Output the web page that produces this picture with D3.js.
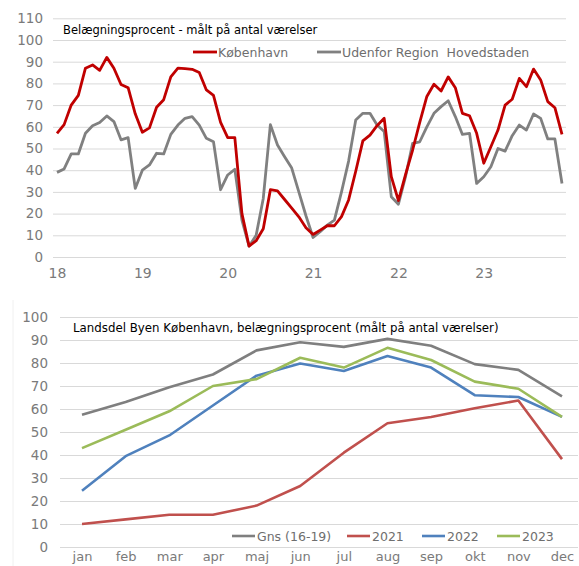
<!DOCTYPE html>
<html>
<head>
<meta charset="utf-8">
<script src="https://cdn.jsdelivr.net/npm/d3@7"></script>
<style>
  body { margin: 0; background: #fff; }
  svg text { font-family: "DejaVu Sans", sans-serif; }
  .tick line { stroke: #d9d9d9; stroke-width: 1; }
  .tick text { fill: #7a7a7a; font-size: 13px; }
</style>
</head>
<body>
<div class="chart"></div>
<script>
// top chart: monthly occupancy 2018-2023
var yearLabels = ["18", "19", "20", "21", "22", "23"];
var kbh = [
  57, 61, 70, 74.5, 87, 88.5, 86, 92, 87, 79.5, 78, 66,
  57.5, 59.5, 69, 72.5, 83, 87, 86.8, 86.5, 85, 77, 74.5, 62,
  55, 55, 20, 5, 7.5, 13, 31, 30.5, 26.5, 22.5, 18.5, 13.5,
  10.4, 12.4, 14.4, 14.4, 18.6, 26.3, 39.5, 53.5, 56.2, 60.5, 63.9, 37,
  26, 38, 49.3, 62, 74, 79.6, 76.5, 83, 78, 66.2, 65.1, 57,
  43.2, 50.8, 58.5, 70, 72.7, 82.3, 78.5, 86.6, 81.6, 71.6, 68.8, 56.5
];
var udenfor = [
  39, 40.6, 47.5, 47.5, 57, 60.5, 62, 65, 62.4, 54, 55, 31.6,
  40, 42.4, 47.8, 47.5, 56.5, 60.8, 63.9, 64.7, 60.8, 54.7, 53.1, 31,
  37.8, 40.4, 17, 5, 10, 27, 61, 51.6, 46.2, 41, 30, 19,
  9, 11.7, 14.7, 17, 30, 44.2, 63.1, 66.2, 66.2, 60.8, 57.8, 27.8,
  24.3, 37, 52.4, 53.1, 60, 66.2, 69.3, 72, 64.7, 56.5, 57, 33.9,
  37, 41.6, 50, 48.8, 55.9, 60.8, 58.5, 65.9, 63.9, 54.4, 54.4, 33.9
];
var topTicks = [0, 10, 20, 30, 40, 50, 60, 70, 80, 90, 100, 110];

// bottom chart: Landsdel Byen København by month
var months = ["jan", "feb", "mar", "apr", "maj", "jun", "jul", "aug", "sep", "okt", "nov", "dec"];
var gns = [57.5, 63, 69.5, 75, 85.5, 89, 87, 90.5, 87.5, 79.5, 77, 65.5];
var y2021 = [10, 12, 14, 14, 18, 26.5, 41, 53.8, 56.5, 60.3, 63.7, 38.2];
var y2022 = [24.5, 39.5, 48.5, 61.5, 74.5, 79.8, 76.5, 83, 78, 66, 65.2, 56.6];
var y2023 = [43, 51, 59, 70, 73, 82.3, 78, 86.6, 81.3, 71.9, 68.8, 56.6];
var bottomTicks = [0, 10, 20, 30, 40, 50, 60, 70, 80, 90, 100];

var svg = d3.select(".chart")
  .append("svg")
    .attr("width", 579)
    .attr("height", 566);

// ---------- top chart ----------
var xTop = d3.scaleLinear().domain([0, kbh.length - 1]).range([57, 562]);
var yTop = d3.scaleLinear().domain([0, 110]).range([257, 18.3]);

svg.append("g")
    .attr("transform", "translate(53,0)")
    .call(d3.axisLeft(yTop).tickValues(topTicks).tickSize(-513).tickPadding(10))
    .call(function (g) { g.select(".domain").remove(); })
    .selectAll("text").style("font-size", "13.5px");

svg.append("g")
    .attr("transform", "translate(0,257)")
    .call(d3.axisBottom(xTop)
      .tickValues(yearLabels.map(function (d, i) { return i * 12; }))
      .tickFormat(function (d) { return yearLabels[d / 12]; })
      .tickSize(0).tickPadding(11))
    .call(function (g) { g.select(".domain").remove(); })
    .selectAll("text").style("font-size", "14px");

var topLine = d3.line()
    .x(function (d, i) { return xTop(i); })
    .y(function (d) { return yTop(d); });

svg.append("path")
    .datum(udenfor)
    .attr("d", topLine)
    .attr("fill", "none")
    .attr("stroke", "#808080")
    .attr("stroke-width", 2.8)
    .attr("stroke-linejoin", "round");

svg.append("path")
    .datum(kbh)
    .attr("d", topLine)
    .attr("fill", "none")
    .attr("stroke", "#c00000")
    .attr("stroke-width", 2.8)
    .attr("stroke-linejoin", "round");

svg.append("text")
    .text("Belægningsprocent - målt på antal værelser")
    .attr("x", 63)
    .attr("y", 34)
    .attr("font-size", "11.5px")
    .attr("fill", "#000");

var topLegend = [
  {name: "København", color: "#c00000", x: 193},
  {name: "Udenfor Region  Hovedstaden", color: "#808080", x: 317}
];
topLegend.forEach(function (d) {
  svg.append("line")
      .attr("x1", d.x).attr("x2", d.x + 24)
      .attr("y1", 52).attr("y2", 52)
      .attr("stroke", d.color)
      .attr("stroke-width", 2.8);
  svg.append("text")
      .text(d.name)
      .attr("x", d.x + 25)
      .attr("y", 56.5)
      .attr("font-size", "12.5px")
      .attr("fill", "#6e6e6e")
      .style("white-space", "pre");
});

// ---------- bottom chart ----------
var xBot = d3.scalePoint().domain(months).range([82, 562]);
var yBot = d3.scaleLinear().domain([0, 100]).range([547, 317]);

// faint chart-area border on the left
svg.append("line")
    .attr("x1", 13).attr("x2", 13)
    .attr("y1", 300).attr("y2", 566)
    .attr("stroke", "#f0f0f0");

svg.append("g")
    .attr("transform", "translate(60,0)")
    .call(d3.axisLeft(yBot).tickValues(bottomTicks).tickSize(-518).tickPadding(12))
    .call(function (g) { g.select(".domain").remove(); })
    .selectAll("text").style("font-size", "13.5px");

svg.append("g")
    .attr("transform", "translate(0,547)")
    .call(d3.axisBottom(xBot).tickSize(0).tickPadding(5))
    .call(function (g) { g.select(".domain").remove(); });

var botLine = d3.line()
    .x(function (d, i) { return xBot(months[i]); })
    .y(function (d) { return yBot(d); });

var botSeries = [
  {name: "Gns (16-19)", values: gns, color: "#7f7f7f", lx: 232},
  {name: "2021", values: y2021, color: "#c0504d", lx: 347},
  {name: "2022", values: y2022, color: "#4f81bd", lx: 422},
  {name: "2023", values: y2023, color: "#9bbb59", lx: 497}
];

botSeries.forEach(function (s) {
  svg.append("path")
      .datum(s.values)
      .attr("d", botLine)
      .attr("fill", "none")
      .attr("stroke", s.color)
      .attr("stroke-width", 2.6)
      .attr("stroke-linejoin", "round");
});

svg.append("text")
    .text("Landsdel Byen København, belægningsprocent (målt på antal værelser)")
    .attr("x", 73)
    .attr("y", 332)
    .attr("font-size", "11.8px")
    .attr("fill", "#000");

botSeries.forEach(function (s) {
  svg.append("line")
      .attr("x1", s.lx).attr("x2", s.lx + 23)
      .attr("y1", 536).attr("y2", 536)
      .attr("stroke", s.color)
      .attr("stroke-width", 2.6);
  svg.append("text")
      .text(s.name)
      .attr("x", s.lx + 25)
      .attr("y", 540.5)
      .attr("font-size", "12.5px")
      .attr("fill", "#6e6e6e");
});
</script>
</body>
</html>
